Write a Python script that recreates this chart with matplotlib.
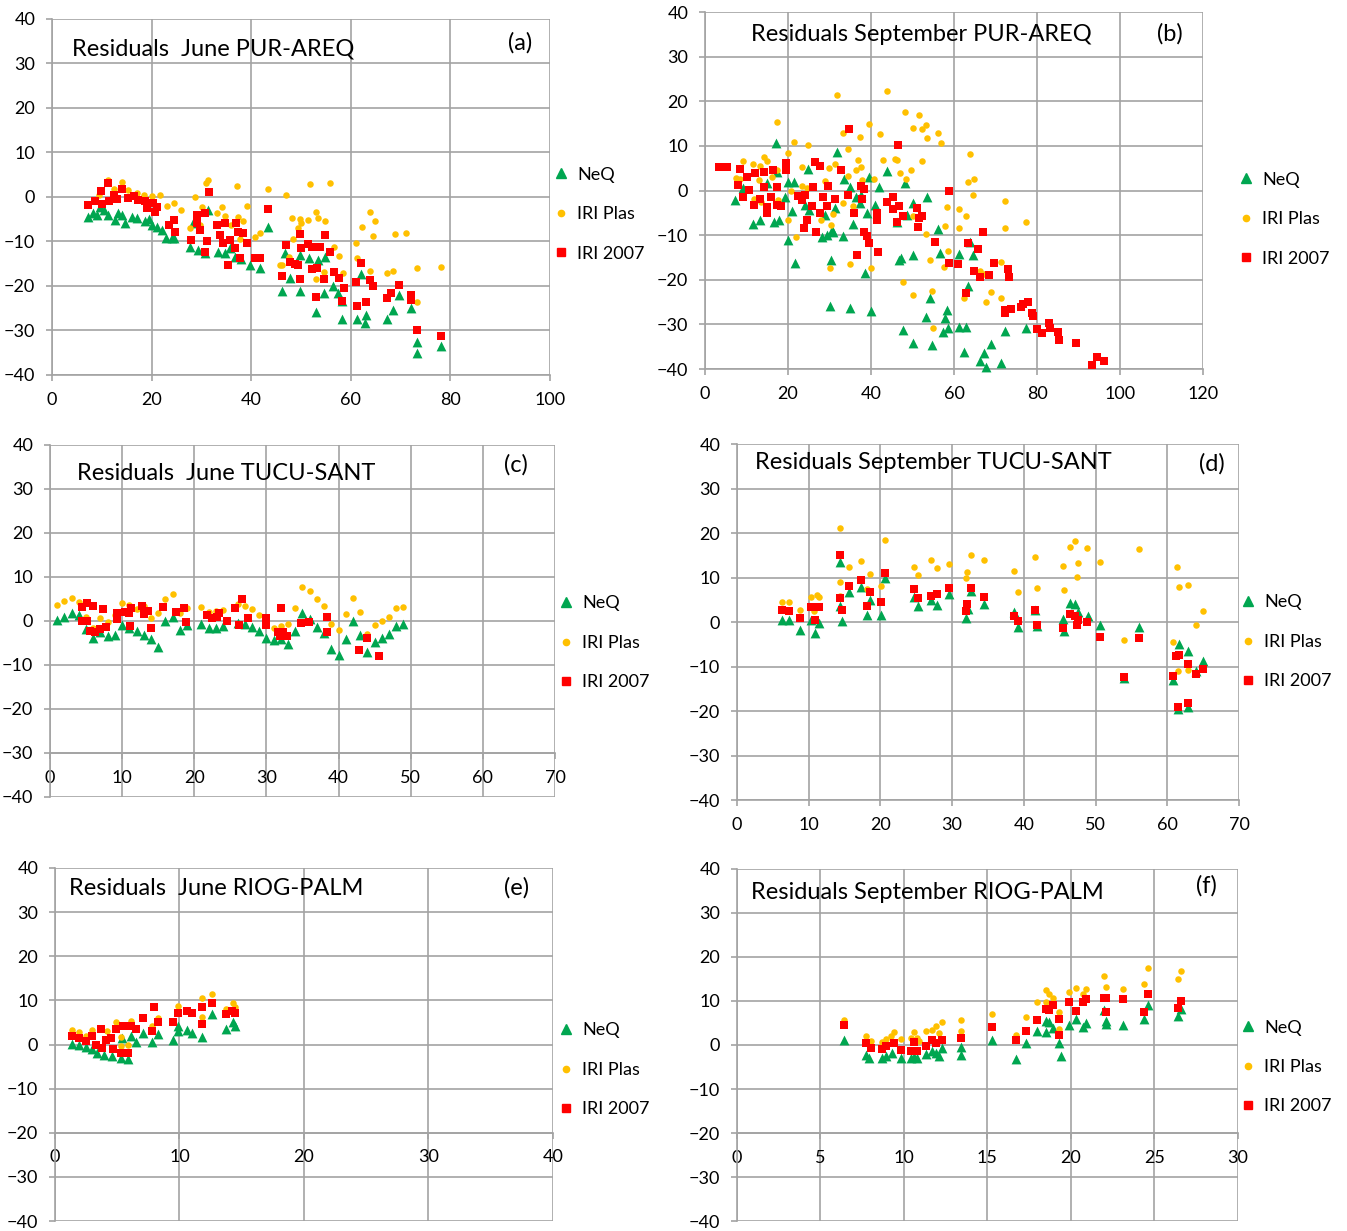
import matplotlib
matplotlib.use("Agg")
import matplotlib.pyplot as plt
from matplotlib.lines import Line2D

plt.rcParams['font.family'] = ['Lato', 'DejaVu Sans']

# ---- (a) June PUR-AREQ ----
a_neq = [(7.3, -4.4), (8.2, -3.5), (9.0, -4.0), (9.6, -2.2), (10.5, -3.0), (11.3, -4.0),
         (12.6, -5.2), (13.2, -3.5), (14.0, -4.0), (14.7, -5.9), (16.0, -4.5), (17.0, -4.8),
         (18.7, -5.5), (19.5, -5.0), (20.0, -6.3), (21.0, -6.7), (22.0, -7.5), (22.9, -9.3),
         (24.0, -9.3), (24.4, -9.3), (27.7, -11.2), (28.4, -5.9), (29.4, -11.9), (31.4, -2.9),
         (30.7, -12.7), (33.4, -12.3), (34.7, -12.7), (35.7, -11.5), (36.7, -13.4), (38.0, -14.0),
         (39.7, -15.3), (41.8, -16.0), (43.4, -6.7), (46.1, -21.1),
         (46.8, -12.7), (47.7, -18.3), (49.9, -13.0), (49.9, -21.1), (51.7, -13.8), (53.1, -25.8),
         (53.5, -14.2), (54.7, -21.6), (54.8, -13.4), (56.4, -20.1), (57.5, -21.6), (58.2, -23.4),
         (58.2, -27.4), (61.2, -27.4), (62.1, -17.4), (62.9, -28.4), (63.0, -26.5), (67.2, -27.4),
         (68.5, -25.4), (69.7, -22.0), (72.1, -24.9), (73.2, -32.5), (73.2, -35.1), (78.2, -33.5)]
a_plas = [(9.5, 0.5), (11.3, 3.8), (12.5, 1.8), (14.0, 3.3), (15.3, 1.6), (17.0, 1.0),
          (18.5, 0.5), (20.0, 0.2), (21.7, 0.45), (23.0, -2.0), (24.4, -1.4), (26.0, -3.0),
          (27.7, -6.9), (28.7, 0.1), (30.1, -2.2), (30.9, 3.1), (29.7, -6.3), (31.4, 3.8),
          (33.1, -3.7), (34.1, -2.2), (34.7, -4.3), (35.9, -6.2), (37.2, 2.5), (37.4, -4.6),
          (38.4, -5.5), (39.1, -2.0), (37.8, -9.5), (40.8, -9.1), (41.8, -8.2), (43.4, 1.7),
          (46.9, 0.45), (48.1, -4.8), (45.7, -15.3),
          (51.9, 2.85), (55.9, 3.1), (49.8, -4.9), (50.1, -5.9), (51.5, -5.2), (53.1, -3.4),
          (53.5, -4.8), (54.8, -5.4), (49.5, -7.0), (48.3, -9.4), (63.8, -3.4), (64.8, -5.5),
          (62.2, -6.7), (64.4, -8.8), (68.8, -8.4), (71.1, -8.2), (61.0, -10.4), (61.2, -13.8),
          (56.7, -11.2), (57.7, -13.3), (58.5, -17.0), (54.7, -16.8), (53.0, -18.5), (63.9, -16.6),
          (67.2, -17.0), (68.5, -16.6), (73.2, -16.0), (78.2, -15.8), (73.2, -23.5), (47.6, -13.4),
          (46.1, -15.3)]
a_iri = [(7.3, -1.8), (8.6, -1.0), (9.8, 1.4), (10.0, -1.5), (11.3, 3.1), (11.5, -1.0),
         (12.5, 0.5), (13.0, -0.5), (14.0, 1.9), (15.3, -0.3), (16.5, 0.2), (17.3, -0.7),
         (18.7, -1.0), (19.0, -2.5), (20.3, -1.4), (20.7, -3.3), (21.0, -2.2), (23.4, -6.3),
         (24.4, -5.2), (24.7, -7.8), (29.1, -4.0), (30.7, -3.7), (29.1, -5.9), (29.7, -7.4),
         (28.0, -9.7), (31.1, -10.0), (30.7, -12.3), (31.5, 1.1), (33.1, -6.3), (34.7, -5.9),
         (36.9, -5.9), (33.7, -8.5), (35.7, -9.7), (34.4, -10.4), (36.7, -11.5), (37.4, -7.8),
         (38.4, -8.2), (39.1, -10.4), (37.8, -13.8), (35.4, -15.3), (40.8, -13.8), (41.8, -13.8),
         (43.4, -2.8), (46.9, -10.9), (49.9, -8.4), (54.8, -8.5), (50.1, -11.5),
         (51.5, -10.6), (52.2, -11.2), (53.9, -11.2), (55.9, -12.3), (47.7, -14.7), (48.8, -15.1),
         (49.5, -15.3), (52.2, -16.2), (53.3, -16.0), (46.1, -17.8), (49.9, -18.5), (54.7, -18.5),
         (56.7, -16.9), (57.7, -18.3), (58.7, -20.5), (58.2, -23.4), (53.1, -22.5), (62.1, -14.9),
         (61.0, -19.2), (63.8, -18.6), (64.5, -20.1), (63.0, -23.5), (61.2, -24.4), (67.2, -22.8),
         (68.1, -21.5), (69.7, -19.8), (72.1, -22.0), (72.1, -23.1), (73.2, -30.0), (78.2, -31.2)]

# ---- (b) September PUR-AREQ ----
b_neq = [(17.1, 10.7), (7.2, -2.1), (9.2, 0.6), (11.6, -7.4), (13.3, -6.5), (14.9, 1.6),
         (16.6, -7.0), (17.9, -6.5), (17.4, 4.2), (19.3, -1.4), (20.1, 2.0), (21.4, 2.0),
         (20.9, -4.5), (20.1, -11.1), (21.7, -16.2), (24.7, 4.9), (24.1, -3.3), (25.1, -4.4),
         (28.9, -5.5), (28.1, -10.3), (29.3, -10.0), (30.5, -8.8), (30.9, -9.2), (31.7, 8.7),
         (31.3, -4.0), (33.3, -10.2), (30.4, -15.6), (33.6, 2.6), (34.9, 0.9), (36.5, -1.4),
         (37.3, -2.9), (37.7, -1.0), (39.1, -5.0), (35.6, -7.4), (40.9, -3.2), (42.0, 0.7),
         (39.4, 3.1), (43.8, 4.4), (38.6, -18.4), (46.2, -7.1), (46.8, -15.5), (30.1, -25.9),
         (34.9, -26.4), (40.0, -26.9), (48.2, 1.6), (50.1, -2.7), (53.4, -1.5), (48.6, -5.5),
         (56.2, -8.6), (63.9, -11.5), (47.2, -15.2), (50.2, -14.4), (56.6, -13.9), (61.2, -14.2),
         (64.6, -14.4), (63.4, -21.5), (54.2, -24.1), (58.4, -26.8), (53.2, -28.4), (57.8, -28.6),
         (58.6, -30.9), (57.4, -31.6), (61.3, -30.5), (63.0, -30.6), (72.3, -31.4), (77.3, -30.9),
         (47.6, -31.3), (50.0, -34.2), (54.8, -34.6), (62.3, -36.1), (68.9, -34.4), (67.2, -36.3),
         (66.3, -38.3), (67.7, -39.5), (71.3, -38.6)]
b_plas = [(31.7, 21.5), (43.8, 22.3), (17.3, 15.4), (39.4, 15.0), (33.3, 12.9), (37.3, 11.9),
          (42.2, 12.7), (21.5, 10.9), (24.7, 10.3), (34.5, 9.4), (20.1, 8.5), (14.2, 7.5),
          (14.9, 6.6), (9.2, 6.6), (11.6, 6.0), (13.3, 5.5), (17.4, 4.6), (23.3, 5.2),
          (29.9, 5.0), (31.3, 6.0), (36.9, 6.9), (36.5, 4.7), (37.7, 5.2), (7.5, 2.8),
          (8.4, 2.6), (13.1, 2.4), (16.1, 3.1), (23.3, 1.0), (24.5, 0.5), (28.9, 2.2),
          (34.4, 3.3), (37.9, 2.4), (40.8, 2.6), (20.6, 0.0), (11.8, -1.8), (13.6, -2.5),
          (17.7, -2.1), (20.1, -6.5), (30.9, -5.3), (27.9, -6.6), (30.4, -7.7), (35.6, -3.5),
          (33.2, -2.9), (21.9, -10.3), (35.0, -16.5), (30.1, -17.3), (39.9, -17.4), (46.2, 6.9),
          (43.0, 6.8), (48.2, 17.7), (51.6, 16.9), (53.3, 14.8), (50.2, 14.1), (52.2, 13.8),
          (56.2, 12.8), (53.6, 11.7), (56.9, 10.6), (63.9, 8.3), (45.9, 7.0), (52.2, 6.6),
          (49.6, 4.7), (47.1, 3.9), (48.4, 2.6), (64.9, 2.6), (63.3, 1.9), (64.5, -1.0),
          (72.3, -2.3), (58.4, -3.6), (61.2, -4.2), (63.0, -5.7), (77.3, -7.0), (57.8, -7.9),
          (61.3, -8.5), (72.3, -8.5), (53.3, -9.8), (58.6, -13.5), (54.2, -15.6), (57.7, -17.1),
          (71.3, -16.0), (66.3, -18.0), (67.2, -18.6), (47.6, -20.6), (54.8, -22.6), (68.9, -22.8),
          (50.0, -23.4), (71.3, -24.0), (62.3, -24.1), (67.7, -25.0), (54.9, -30.7), (50.2, -5.7)]
b_iri = [(3.4, 5.2), (5.4, 5.2), (8.4, 4.8), (10.0, 3.1), (8.0, 1.3), (12.0, 4.0),
         (14.1, 4.2), (16.3, 4.6), (19.5, 6.2), (19.5, 4.5), (9.2, -1.4), (10.7, 0.1),
         (14.1, 0.7), (17.3, 0.7), (11.8, -3.3), (13.3, -2.0), (14.9, -3.6), (14.9, -5.1),
         (15.8, -1.5), (17.4, -3.3), (18.2, -3.5), (22.5, -1.2), (23.3, -2.1), (24.1, -1.0),
         (26.0, 0.8), (26.5, 6.5), (27.7, 5.4), (28.4, -1.5), (27.7, -5.0), (29.3, -3.5),
         (29.7, 1.0), (25.7, -3.5), (24.5, -6.6), (23.9, -8.5), (26.7, -9.2), (31.3, -2.0),
         (32.8, 4.5), (34.5, -1.0), (35.9, -5.1), (34.8, 13.7), (37.5, 1.0), (38.4, 0.3),
         (37.9, -1.8), (38.2, -9.2), (39.0, -10.2), (39.4, -11.8), (36.7, -14.4), (41.8, -13.7),
         (41.5, -5.1), (41.4, -6.6), (45.2, -1.4), (43.8, -2.5), (45.4, -4.1), (46.6, 10.2),
         (46.2, -7.1), (58.9, 0.0), (46.8, -3.5), (51.2, -3.8), (47.6, -5.7), (52.2, -5.7),
         (51.6, -6.2), (85.0, -31.8), (51.4, -8.2), (67.1, -9.2), (55.3, -11.5), (63.3, -11.8),
         (65.7, -13.1), (58.9, -16.3), (61.0, -16.5), (69.6, -16.2), (72.9, -17.6), (64.7, -18.0),
         (66.3, -19.4), (68.5, -18.9), (73.3, -19.4), (62.9, -23.0), (77.8, -24.9), (76.7, -25.4),
         (76.1, -26.2), (73.7, -26.5), (72.3, -26.8), (72.4, -27.5), (78.9, -27.5), (79.1, -28.1),
         (79.9, -31.1), (81.1, -32.0), (82.9, -29.6), (83.1, -30.7), (85.3, -33.6), (89.4, -34.2),
         (94.4, -37.4), (96.2, -38.1), (93.3, -39.1)]

# ---- (c) June TUCU-SANT ----
c_neq = [(1, 0.15), (2, 1.0), (3, 1.9), (4, 1.3), (5, -1.9), (6, -3.9), (7, -2.5), (8, -3.5),
         (9, -3.2), (10, -1.0), (11, -1.7), (12, -2.4), (13, -3.2), (14, -4.0), (15, -6.0),
         (16, 0.0), (17, 1.0), (18, -2.0), (19, -1.0), (21, -0.75), (22, -1.7), (23, -1.5),
         (24, -1.1), (26, -0.5), (27, -0.75), (28, -1.3), (29, -2.3), (30, -3.8), (31, -4.3),
         (32, -4.1), (33, -5.3), (34, -2.3), (35, 1.7), (36, 0.5), (37, -1.3), (38, -2.8),
         (39, -6.4), (40, -7.7), (41, -4.0), (42, 0.0), (43, -3.2), (44, -7.1), (45, -4.9),
         (46, -3.9), (47, -3.0), (48, -1.1), (49, -0.75)]
c_plas = [(1, 3.6), (2, 4.5), (3, 5.1), (4, 4.4), (5, 1.0), (6, -1.5), (7, 0.75), (8, -0.2),
          (9, 1.3), (10, 4.0), (11, 3.6), (12, 2.8), (13, 3.4), (14, 0.75), (15, 1.7),
          (16, 4.9), (17, 6.2), (18, 1.9), (19, 3.0), (21, 3.2), (22, 2.1), (23, 2.3),
          (24, 2.5), (26, 3.8), (27, 3.4), (28, 2.6), (29, 1.4), (30, -0.5), (31, -1.7),
          (32, -1.1), (33, -0.6), (34, 3.0), (35, 7.7), (36, 6.9), (37, 4.9), (38, 3.4),
          (39, -0.75), (40, -2.1), (41, 1.5), (42, 5.1), (43, 2.1), (44, -3.0), (45, -0.9),
          (46, 0.0), (47, 0.9), (48, 2.9), (49, 3.2)]
c_iri = [(4.5, 3.2), (5.1, 4.0), (6.0, 3.5), (7.3, 2.8), (4.5, 0.0), (5.2, 0.0), (5.5, -2.3),
         (6.2, -2.5), (7.0, -1.9), (7.7, -1.4), (9.3, 1.7), (9.3, 0.5), (10.4, 2.1), (11.0, 1.7),
         (11.3, 2.9), (11.1, -1.1), (12.8, 3.4), (13.0, 1.5), (13.6, 2.3), (14.0, -1.5),
         (15.6, 3.2), (17.5, 2.1), (18.6, 2.9), (18.9, -0.2), (21.8, 1.3), (22.5, 0.75),
         (23.1, 1.0), (23.4, 1.9), (24.5, 0.0), (25.7, 3.0), (26.6, 4.9), (27.4, 0.75),
         (26.2, -0.9), (29.9, 0.75), (30.0, -0.9), (31.6, -2.5), (32.0, 2.9), (32.3, -2.5),
         (32.8, -3.5), (31.9, -3.4), (34.8, -0.4), (35.9, -0.15), (38.4, 0.9), (38.4, -2.5),
         (42.8, -6.5), (43.9, -3.8), (45.6, -7.9)]

# ---- (d) September TUCU-SANT ----
d_neq = [(6.3, 0.4), (7.3, 0.4), (8.8, -1.9), (10.3, 0.5), (10.9, -2.5), (11.5, -0.2),
         (14.3, 13.6), (14.3, 3.7), (14.6, 0.3), (15.6, 6.7), (17.3, 7.8), (18.5, 5.0),
         (18.2, 1.6), (20.1, 1.6), (20.6, 9.9), (24.7, 5.6), (25.2, 3.7), (27.0, 4.9),
         (27.9, 3.9), (29.5, 6.4), (32.6, 6.9), (32.2, 2.9), (31.9, 1.0), (34.5, 4.0),
         (38.7, 2.2), (39.2, -1.1), (41.5, 2.8), (41.8, -1.0), (45.5, 0.7), (45.6, -2.1),
         (46.5, 4.3), (47.1, 4.1), (47.6, 2.2), (48.9, 1.4), (50.6, -0.6), (56.0, -1.1),
         (53.9, -12.6), (61.6, -4.9), (62.9, -6.6), (65.0, -8.8), (64.0, -11.1), (60.8, -13.1),
         (61.5, -19.6), (62.9, -19.1)]
d_plas = [(14.3, 21.1), (20.6, 18.4), (17.3, 13.8), (15.6, 12.3), (18.5, 10.9), (14.3, 9.1),
          (20.1, 8.2), (18.2, 7.4), (14.4, 5.9), (10.3, 5.6), (11.1, 6.1), (11.5, 5.6),
          (6.3, 4.6), (7.3, 4.6), (8.8, 2.8), (10.7, 2.4), (24.7, 12.3), (25.2, 10.6),
          (27.1, 14.0), (27.9, 12.1), (29.5, 13.0), (32.6, 15.0), (32.1, 11.2), (31.9, 10.0),
          (34.5, 14.0), (38.7, 11.5), (41.5, 14.6), (39.2, 6.8), (41.8, 7.6), (45.5, 12.7),
          (45.6, 7.3), (46.5, 16.8), (47.1, 18.1), (48.8, 16.6), (47.6, 13.3), (47.4, 10.1),
          (50.6, 13.5), (56.0, 16.5), (53.9, -4.0), (61.3, 12.3), (61.7, 7.9), (62.9, 8.4),
          (65.0, 2.5), (64.0, -0.6), (60.8, -4.6), (61.5, -10.9), (62.9, -10.7)]
d_iri = [(6.3, 2.8), (7.3, 2.5), (8.8, 1.0), (10.3, 3.3), (11.4, 3.4), (10.9, 0.5),
         (14.3, 15.0), (14.3, 5.4), (15.6, 8.2), (14.6, 2.8), (17.3, 9.4), (18.5, 6.7),
         (18.2, 3.7), (20.1, 4.4), (20.6, 11.0), (24.7, 7.4), (25.2, 5.4), (27.0, 5.9),
         (27.9, 6.3), (29.5, 7.6), (32.6, 7.6), (32.1, 4.0), (31.9, 2.5), (34.5, 5.6),
         (38.7, 1.4), (39.2, 0.3), (41.5, 2.6), (41.8, -0.6), (45.5, -1.3), (46.5, 1.8),
         (47.1, 1.4), (47.5, 0.5), (47.4, -0.75), (48.8, -0.1), (50.6, -3.4), (56.0, -3.7),
         (53.9, -12.4), (61.2, -7.7), (61.6, -7.3), (62.9, -9.4), (64.0, -11.6), (65.0, -10.5),
         (60.8, -12.2), (61.5, -19.1), (62.9, -18.1)]

# ---- (e) June RIOG-PALM ----
e_neq = [(1.4, 0.2), (1.9, -0.2), (2.5, -0.6), (3.0, -1.1), (3.4, -1.9), (3.9, -2.3),
         (4.6, -2.5), (5.3, -3.0), (5.9, -3.2), (5.4, 1.5), (6.1, 1.9), (6.5, 0.5),
         (7.1, 2.5), (7.8, 0.5), (8.3, 2.3), (9.5, 1.1), (9.9, 4.3), (9.9, 3.0),
         (10.6, 3.2), (11.0, 2.6), (11.8, 1.7), (12.6, 7.0), (13.7, 3.6), (14.3, 5.0),
         (14.5, 4.1)]
e_plas = [(1.4, 3.2), (1.9, 2.8), (2.5, 2.0), (2.96, 3.2), (3.7, 3.8), (4.2, 3.0),
          (4.9, 5.0), (5.3, 1.7), (5.9, -0.2), (6.1, 5.4), (7.8, 4.1), (8.3, 6.0),
          (9.9, 8.8), (11.8, 10.5), (12.6, 11.4), (11.8, 6.2), (13.7, 8.0), (14.3, 9.4),
          (14.5, 8.5), (5.3, -0.4)]
e_iri = [(1.4, 2.0), (1.9, 1.5), (2.5, 0.75), (2.96, 2.0), (3.7, 3.4), (3.3, 0.0),
         (4.1, 1.1), (4.5, 1.5), (4.9, 3.4), (3.8, -0.75), (4.7, -1.0), (5.3, -1.9),
         (5.9, -2.0), (5.5, 4.3), (6.1, 4.1), (6.5, 3.4), (7.1, 6.0), (7.97, 8.4),
         (7.8, 3.0), (8.3, 5.0), (9.5, 5.0), (9.9, 7.1), (10.6, 7.7), (11.0, 7.1),
         (11.8, 8.6), (12.6, 9.5), (11.8, 4.7), (13.7, 6.8), (14.2, 7.7), (14.5, 7.1)]

# ---- (f) September RIOG-PALM ----
f_neq = [(6.4, 1.2), (7.7, -2.3), (7.9, -3.0), (8.7, -3.0), (8.9, -2.4), (9.3, -1.8),
         (9.8, -3.0), (10.4, -3.0), (10.6, -2.8), (10.8, -3.0), (11.3, -2.0), (11.7, -1.3),
         (11.9, -1.8), (12.1, -2.6), (12.3, -0.75), (13.4, -0.4), (13.4, -2.3), (15.3, 1.2),
         (16.7, -3.2), (17.3, 0.45), (17.96, 3.2), (18.5, 5.5), (18.5, 3.0), (18.7, 5.3),
         (18.9, 3.8), (19.3, 0.45), (19.4, -2.6), (19.9, 4.6), (20.3, 5.9), (20.7, 4.2),
         (20.9, 5.1), (22.0, 8.0), (22.1, 4.7), (22.1, 5.5), (23.1, 4.6), (24.4, 5.9),
         (24.6, 9.2), (26.4, 6.6), (26.6, 8.1)]
f_plas = [(6.4, 5.6), (7.7, 2.0), (8.0, 1.0), (8.7, 0.75), (8.9, 1.4), (9.2, 2.0),
          (9.4, 2.9), (9.8, 1.4), (10.4, 1.5), (10.6, 3.0), (10.8, 1.7), (10.9, 1.0),
          (11.3, 3.2), (11.7, 3.4), (11.9, 4.4), (12.1, 2.7), (12.3, 5.3), (13.4, 5.6),
          (13.4, 3.2), (15.3, 7.0), (16.7, 2.3), (17.3, 6.4), (17.96, 9.8), (18.5, 12.4),
          (18.5, 9.8), (18.7, 11.7), (18.9, 10.6), (19.3, 7.4), (19.3, 3.6), (19.9, 12.0),
          (20.3, 12.9), (20.7, 11.7), (20.9, 12.8), (22.0, 15.6), (22.1, 13.2), (23.1, 12.8),
          (24.4, 13.9), (24.6, 17.5), (26.4, 15.1), (26.6, 16.8)]
f_iri = [(6.4, 4.5), (7.7, 0.45), (8.0, -0.75), (8.7, -0.9), (8.9, -0.15), (9.4, 0.45),
         (9.8, -1.1), (10.4, -1.3), (10.6, 0.75), (10.8, -1.3), (11.3, -0.3), (11.7, 1.2),
         (11.9, 0.4), (12.3, 1.2), (13.4, 1.5), (15.3, 4.0), (16.7, 1.1), (17.3, 3.2),
         (17.96, 5.7), (18.5, 8.1), (18.7, 7.9), (18.9, 9.0), (19.3, 5.9), (19.3, 2.3),
         (19.9, 9.8), (20.3, 7.7), (20.7, 9.8), (20.9, 10.5), (22.0, 10.75), (22.1, 10.75),
         (22.1, 7.4), (23.1, 10.4), (24.4, 7.5), (24.6, 11.7), (26.4, 8.3), (26.6, 10.0)]

SERIES = ["NeQ", "IRI Plas", "IRI 2007"]
GREEN = "#00a650"
YELLOW = "#ffc000"
RED = "#ff0000"
GRID = "#a3a3a3"


def draw_panel(rect, neq, plas, iri, xmax, xstep, xcross, title, title_xy, tag, tag_xy, leg_xy):
    ax = fig.add_axes(rect)
    styles = [(neq, "^", GREEN, 50), (plas, "o", YELLOW, 22), (iri, "s", RED, 36)]
    for pts, m, c, s in styles:
        ax.scatter([p[0] for p in pts], [p[1] for p in pts], marker=m, c=c, s=s,
                   linewidths=0, zorder=3, clip_on=False)
    ax.set_xlim(0, xmax)
    ax.set_ylim(-40, 40)
    ax.set_xticks(range(0, xmax + 1, xstep))
    ax.set_yticks(range(-40, 41, 10))
    ax.grid(True, color=GRID, lw=1.2)
    ax.set_axisbelow(True)
    ax.spines["top"].set_visible(False)
    ax.spines["right"].set_visible(False)
    for side in ["left", "bottom"]:
        ax.spines[side].set_color(GRID)
        ax.spines[side].set_linewidth(1.2)
    ax.spines["bottom"].set_position(("data", xcross))
    ax.tick_params(axis="both", colors=GRID, labelcolor="black", labelsize=13,
                   length=4, width=1.2)
    ax.tick_params(axis="y", pad=8)
    ax.tick_params(axis="x", pad=8)
    ax.text(title_xy[0], title_xy[1], title, transform=ax.transAxes, fontsize=17,
            va="center", ha="left")
    ax.text(tag_xy[0], tag_xy[1], tag, transform=ax.transAxes, fontsize=17,
            va="center", ha="center")
    handles = [Line2D([], [], ls="none", marker="^", color=GREEN, markersize=7),
               Line2D([], [], ls="none", marker="o", color=YELLOW, markersize=4.5),
               Line2D([], [], ls="none", marker="s", color=RED, markersize=6)]
    ax.legend(handles, SERIES, loc="center left", bbox_to_anchor=leg_xy, frameon=False,
              fontsize=13, handlelength=0.8, handletextpad=0.5, labelspacing=1.3,
              borderpad=0, borderaxespad=0)
    return ax


fig = plt.figure(figsize=(13.47, 12.31), dpi=100)

draw_panel([0.0386, 0.6954, 0.3697, 0.2892], a_neq, a_plas, a_iri, 100, 20, -40,
           "Residuals  June PUR-AREQ", (0.04, 0.916), "(a)", (0.94, 0.933), (1.008, 0.452))
draw_panel([0.5234, 0.7002, 0.3697, 0.2900], b_neq, b_plas, b_iri, 120, 20, -40,
           "Residuals September PUR-AREQ", (0.092, 0.936), "(b)", (0.934, 0.938), (1.072, 0.42))
draw_panel([0.0371, 0.3526, 0.3749, 0.2860], c_neq, c_plas, c_iri, 70, 10, -30,
           "Residuals  June TUCU-SANT", (0.053, 0.92), "(c)", (0.923, 0.943), (1.008, 0.4375))
draw_panel([0.5471, 0.3501, 0.3727, 0.2892], d_neq, d_plas, d_iri, 70, 10, -40,
           "Residuals September TUCU-SANT", (0.036, 0.947), "(d)", (0.946, 0.944), (1.004, 0.444))
draw_panel([0.0408, 0.0081, 0.3697, 0.2868], e_neq, e_plas, e_iri, 40, 10, -20,
           "Residuals  June RIOG-PALM", (0.028, 0.943), "(e)", (0.926, 0.943), (1.012, 0.428))
draw_panel([0.5471, 0.0081, 0.3719, 0.2860], f_neq, f_plas, f_iri, 30, 5, -20,
           "Residuals September RIOG-PALM", (0.028, 0.932), "(f)", (0.938, 0.952), (1.006, 0.4375))

fig.savefig("out.png", dpi=100)
